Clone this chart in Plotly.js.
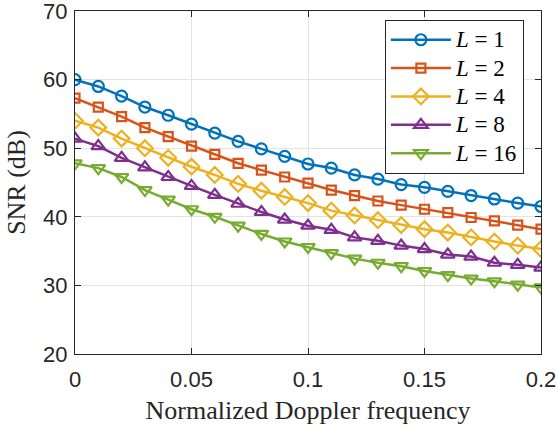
<!DOCTYPE html>
<html>
<head>
<meta charset="utf-8">
<script src="https://cdn.plot.ly/plotly-3.0.1.min.js"></script>
<style>html,body{margin:0;padding:0;background:#fff;}#chart{width:558px;height:430px;}</style>
</head>
<body>
<div id="chart"></div>
<script>
const doppler = [0,0.01,0.02,0.03,0.04,0.05,0.06,0.07,0.08,0.09,0.1,0.11,0.12,0.13,0.14,0.15,0.16,0.17,0.18,0.19,0.2];
const snrL1  = [60.0,59.0,57.6,56.0,54.8,53.5,52.2,51.0,49.9,48.8,47.7,47.1,46.1,45.5,44.7,44.3,43.7,43.1,42.6,42.0,41.5];
const snrL2  = [57.3,56.0,54.6,53.0,51.7,50.3,49.1,47.8,46.8,45.8,44.9,43.9,43.1,42.3,41.7,41.1,40.6,39.9,39.4,38.8,38.2];
const snrL4  = [54.0,53.0,51.4,50.0,48.6,47.3,46.1,44.8,43.8,42.9,42.0,40.9,40.2,39.5,38.8,38.2,37.7,37.0,36.4,35.8,35.3];
const snrL8  = [51.4,50.3,48.6,47.2,45.8,44.5,43.2,41.9,40.7,39.6,38.7,38.1,37.0,36.5,35.8,35.3,34.5,34.2,33.3,33.0,32.6];
const snrL16 = [47.8,47.1,45.8,43.9,42.5,41.1,40.0,38.7,37.5,36.4,35.6,34.7,33.9,33.3,32.8,32.1,31.5,31.0,30.6,30.1,29.7];
const seriesNames = ['<i>L</i> = 1','<i>L</i> = 2','<i>L</i> = 4','<i>L</i> = 8','<i>L</i> = 16'];
const xTickVals = [0,0.05,0.1,0.15,0.2];
const xTickText = ['0','0.05','0.1','0.15','0.2'];
const yTickVals = [20,30,40,50,60,70];

const colors = ['#0072BD','#D95319','#EDB120','#7E2F8E','#77AC30'];
const symbols = ['circle-open','square-open','diamond-open','triangle-up-open','triangle-down-open'];
const sizes = [11,9,12,12,12];
const ys = [snrL1,snrL2,snrL4,snrL8,snrL16];

const traces = ys.map((y,i)=>({
  x: doppler, y: y, type:'scatter', mode:'lines+markers',
  name: '<span style="font-size:23px">' + seriesNames[i] + '</span>',
  line:{color:colors[i], width:2.5},
  marker:{symbol:symbols[i], size:sizes[i], color:colors[i], line:{color:colors[i], width:2.2}}
}));

const axisCommon = {
  showline:true, linecolor:'#262626', linewidth:1, mirror:'ticks',
  ticks:'inside', ticklen:6, tickcolor:'#262626',
  showgrid:true, gridcolor:'#e3e3e3', gridwidth:1, zeroline:false,
  ticklabeloverflow:'allow',
  tickfont:{family:'Liberation Sans, Arial, sans-serif', size:22, color:'#262626'}
};
const titleFont = {family:'Liberation Serif, Times New Roman, serif', size:26, color:'#262626'};

const layout = {
  width:558, height:430,
  margin:{l:75, r:17, t:11, b:76},
  paper_bgcolor:'#fff', plot_bgcolor:'#fff',
  xaxis: Object.assign({}, axisCommon, {
    range:[0,0.2], tickvals:xTickVals, ticktext:xTickText, ticklabelstandoff:6,
    title:{text:'Normalized Doppler frequency', font:titleFont, standoff:9}
  }),
  yaxis: Object.assign({}, axisCommon, {
    range:[20,70], tickvals:yTickVals, ticklabelstandoff:2,
    title:{text:'SNR (dB)', font:titleFont, standoff:10}
  }),
  legend:{
    x:0.665, y:0.975, xanchor:'left', yanchor:'top',
    bgcolor:'#fff', bordercolor:'#262626', borderwidth:1,
    font:{family:'Liberation Serif, Times New Roman, serif', size:19.5, color:'#000'},
    itemwidth:60
  },
  showlegend:true
};

Plotly.newPlot('chart', traces, layout, {displayModeBar:false, staticPlot:true});
</script>
</body>
</html>
